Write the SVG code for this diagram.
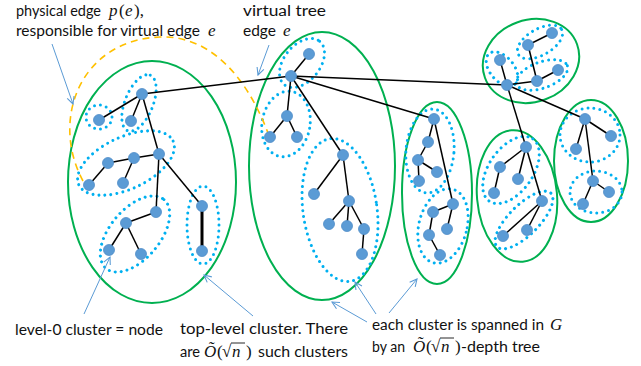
<svg xmlns="http://www.w3.org/2000/svg" width="641" height="366" viewBox="0 0 641 366">
<defs>
<marker id="arr" viewBox="0 0 10 10" refX="9" refY="5" markerWidth="9" markerHeight="9" orient="auto" markerUnits="userSpaceOnUse">
<path d="M1,1 L9,5 L1,9" fill="none" stroke="#5B9BD5" stroke-width="1.2"/>
</marker>
</defs>
<style>
.top{fill:none;stroke:#00B050;stroke-width:2}
.dot{fill:none;stroke:#00B0F0;stroke-width:3;stroke-dasharray:0 6;stroke-linecap:round}
.e{stroke:#000;stroke-width:1.5;fill:none}
.nd{fill:#5B9BD5;stroke:#4F8DC8;stroke-width:0.8}
.ptr{stroke:#5B9BD5;stroke-width:1;fill:none;marker-end:url(#arr)}
.yel{fill:none;stroke:#FFC000;stroke-width:1.6;stroke-dasharray:7 5}
text{font-family:Lato,"Liberation Sans",sans-serif;font-size:15.5px;fill:#111}
.m{font-family:"Liberation Serif","DejaVu Serif",serif;font-style:italic;font-size:17px}
.mr{font-family:"Liberation Serif","DejaVu Serif",serif;font-size:17px}
</style>

<g id="clusters">
<ellipse class="top" cx="152" cy="182" rx="84" ry="121"/>
<ellipse class="top" cx="322" cy="166" rx="73" ry="134"/>
<ellipse class="top" cx="437" cy="193" rx="35" ry="91"/>
<ellipse class="top" cx="531" cy="61" rx="49" ry="41" transform="rotate(-20 531 61)"/>
<ellipse class="top" cx="517" cy="196" rx="40" ry="66" transform="rotate(-5 517 196)"/>
<ellipse class="top" cx="591" cy="161" rx="37" ry="61"/>

<ellipse class="dot" cx="99" cy="117" rx="13" ry="12"/>
<ellipse class="dot" cx="139" cy="103" rx="30" ry="14" transform="rotate(-68 139 103)"/>
<ellipse class="dot" cx="126" cy="163" rx="52" ry="26" transform="rotate(-25 126 163)"/>
<ellipse class="dot" cx="135" cy="234" rx="45" ry="25" transform="rotate(-50 135 234)"/>
<ellipse class="dot" cx="203" cy="225" rx="16" ry="39"/>

<ellipse class="dot" cx="302" cy="63" rx="28" ry="18" transform="rotate(-51 302 63)"/>
<ellipse class="dot" cx="286" cy="124" rx="24" ry="33" transform="rotate(10 286 124)"/>
<ellipse class="dot" cx="340" cy="210" rx="37" ry="72" transform="rotate(-8 340 210)"/>

<ellipse class="dot" cx="430" cy="151" rx="24" ry="42" transform="rotate(5 430 151)"/>
<ellipse class="dot" cx="443" cy="226" rx="24" ry="38" transform="rotate(15 443 226)"/>

<ellipse class="dot" cx="540" cy="42" rx="25" ry="13" transform="rotate(-30 540 42)"/>
<ellipse class="dot" cx="502" cy="69" rx="20" ry="12" transform="rotate(50 502 69)"/>
<ellipse class="dot" cx="542" cy="75" rx="27" ry="13" transform="rotate(-20 542 75)"/>

<ellipse class="dot" cx="511" cy="170" rx="38" ry="22" transform="rotate(-55 511 170)"/>
<ellipse class="dot" cx="524" cy="220" rx="38" ry="15" transform="rotate(-45 524 220)"/>

<ellipse class="dot" cx="590" cy="135" rx="30" ry="27"/>
<ellipse class="dot" cx="596" cy="192" rx="26" ry="21"/>
</g>

<g id="connectors">
<path class="yel" d="M83,181 C50,120 80,40 160,37 C215,35 250,85 268,133"/>
<line class="e" x1="291" y1="76" x2="142" y2="94"/>
<line class="e" x1="291" y1="76" x2="434" y2="119"/>
<line class="e" x1="291" y1="76" x2="507" y2="85"/>
<line class="e" x1="507" y1="85" x2="526" y2="147"/>
<line class="e" x1="507" y1="85" x2="585" y2="119"/>
<line class="e" x1="142" y1="94" x2="99" y2="120"/>
<line class="e" x1="142" y1="94" x2="131" y2="121"/>
<line class="e" x1="142" y1="94" x2="159" y2="154"/>
<line class="e" x1="159" y1="154" x2="134" y2="158"/>
<line class="e" x1="134" y1="158" x2="108" y2="163"/>
<line class="e" x1="108" y1="163" x2="89" y2="185"/>
<line class="e" x1="134" y1="158" x2="123" y2="183"/>
<line class="e" x1="159" y1="154" x2="156" y2="212"/>
<line class="e" x1="156" y1="212" x2="126" y2="223"/>
<line class="e" x1="126" y1="223" x2="109" y2="250"/>
<line class="e" x1="126" y1="223" x2="141" y2="254"/>
<line class="e" x1="159" y1="154" x2="202" y2="206"/>
<line class="e" x1="202" y1="206" x2="202" y2="251" style="stroke-width:3"/>
<line class="e" x1="291" y1="76" x2="309" y2="54"/>
<line class="e" x1="291" y1="76" x2="287" y2="116"/>
<line class="e" x1="287" y1="116" x2="270" y2="137"/>
<line class="e" x1="287" y1="116" x2="297" y2="137"/>
<line class="e" x1="291" y1="76" x2="343" y2="155"/>
<line class="e" x1="343" y1="155" x2="314" y2="194"/>
<line class="e" x1="343" y1="155" x2="349" y2="201"/>
<line class="e" x1="349" y1="201" x2="329" y2="224"/>
<line class="e" x1="349" y1="201" x2="347" y2="226"/>
<line class="e" x1="349" y1="201" x2="364" y2="229"/>
<line class="e" x1="364" y1="229" x2="362" y2="254"/>
<line class="e" x1="434" y1="119" x2="428" y2="142"/>
<line class="e" x1="428" y1="142" x2="418" y2="160"/>
<line class="e" x1="418" y1="160" x2="437" y2="172"/>
<line class="e" x1="418" y1="160" x2="419" y2="181"/>
<line class="e" x1="434" y1="119" x2="453" y2="204"/>
<line class="e" x1="453" y1="204" x2="433" y2="212"/>
<line class="e" x1="453" y1="204" x2="447" y2="229"/>
<line class="e" x1="433" y1="212" x2="429" y2="235"/>
<line class="e" x1="429" y1="235" x2="440" y2="255"/>
<line class="e" x1="528" y1="45" x2="552" y2="33"/>
<line class="e" x1="528" y1="45" x2="537" y2="81"/>
<line class="e" x1="537" y1="81" x2="558" y2="70"/>
<line class="e" x1="507" y1="85" x2="537" y2="81"/>
<line class="e" x1="507" y1="85" x2="500" y2="60"/>
<line class="e" x1="526" y1="147" x2="500" y2="167"/>
<line class="e" x1="500" y1="167" x2="494" y2="193"/>
<line class="e" x1="526" y1="147" x2="518" y2="179"/>
<line class="e" x1="526" y1="147" x2="542" y2="201"/>
<line class="e" x1="542" y1="201" x2="503" y2="236"/>
<line class="e" x1="542" y1="201" x2="527" y2="230"/>
<line class="e" x1="585" y1="119" x2="611" y2="136"/>
<line class="e" x1="585" y1="119" x2="576" y2="149"/>
<line class="e" x1="585" y1="119" x2="593" y2="181"/>
<line class="e" x1="593" y1="181" x2="609" y2="192"/>
<line class="e" x1="593" y1="181" x2="583" y2="204"/>

<line class="ptr" x1="52" y1="44" x2="73" y2="104"/>
<line class="ptr" x1="269" y1="45" x2="258" y2="75"/>
<line class="ptr" x1="84" y1="314" x2="110" y2="257"/>
<line class="ptr" x1="253" y1="316" x2="204" y2="275"/>
<line class="ptr" x1="367" y1="322" x2="332" y2="302"/>
<line class="ptr" x1="376" y1="314" x2="355" y2="282"/>
<line class="ptr" x1="389" y1="313" x2="417" y2="279"/>
</g>

<g id="nodes">
<g id="nA"><circle class="nd" cx="142" cy="94" r="5.5"/></g>
<g id="nB"><circle class="nd" cx="99" cy="120" r="5.5"/></g>
<g id="nC"><circle class="nd" cx="131" cy="121" r="5.5"/></g>
<g id="nD"><circle class="nd" cx="159" cy="154" r="5.5"/></g>
<g id="nE"><circle class="nd" cx="134" cy="158" r="5.5"/></g>
<g id="nF"><circle class="nd" cx="108" cy="163" r="5.5"/></g>
<g id="nG"><circle class="nd" cx="89" cy="185" r="5.5"/></g>
<g id="nH"><circle class="nd" cx="123" cy="183" r="5.5"/></g>
<g id="nI"><circle class="nd" cx="156" cy="212" r="5.5"/></g>
<g id="nJ"><circle class="nd" cx="126" cy="223" r="5.5"/></g>
<g id="nK"><circle class="nd" cx="109" cy="250" r="5.5"/></g>
<g id="nL"><circle class="nd" cx="141" cy="254" r="5.5"/></g>
<g id="nM"><circle class="nd" cx="202" cy="206" r="5.5"/></g>
<g id="nN"><circle class="nd" cx="202" cy="251" r="5.5"/></g>
<g id="nP"><circle class="nd" cx="309" cy="54" r="5.5"/></g>
<g id="nQ"><circle class="nd" cx="291" cy="76" r="5.5"/></g>
<g id="nR"><circle class="nd" cx="287" cy="116" r="5.5"/></g>
<g id="nS"><circle class="nd" cx="270" cy="137" r="5.5"/></g>
<g id="nT"><circle class="nd" cx="297" cy="137" r="5.5"/></g>
<g id="nU"><circle class="nd" cx="343" cy="155" r="5.5"/></g>
<g id="nV"><circle class="nd" cx="314" cy="194" r="5.5"/></g>
<g id="nW"><circle class="nd" cx="349" cy="201" r="5.5"/></g>
<g id="nX"><circle class="nd" cx="329" cy="224" r="5.5"/></g>
<g id="nY"><circle class="nd" cx="347" cy="226" r="5.5"/></g>
<g id="nZ"><circle class="nd" cx="364" cy="229" r="5.5"/></g>
<g id="nAA"><circle class="nd" cx="362" cy="254" r="5.5"/></g>
<g id="nBA"><circle class="nd" cx="434" cy="119" r="5.5"/></g>
<g id="nBB"><circle class="nd" cx="428" cy="142" r="5.5"/></g>
<g id="nBC"><circle class="nd" cx="418" cy="160" r="5.5"/></g>
<g id="nBD"><circle class="nd" cx="437" cy="172" r="5.5"/></g>
<g id="nBE"><circle class="nd" cx="419" cy="181" r="5.5"/></g>
<g id="nBF"><circle class="nd" cx="453" cy="204" r="5.5"/></g>
<g id="nBG"><circle class="nd" cx="433" cy="212" r="5.5"/></g>
<g id="nBH"><circle class="nd" cx="447" cy="229" r="5.5"/></g>
<g id="nBI"><circle class="nd" cx="429" cy="235" r="5.5"/></g>
<g id="nBJ"><circle class="nd" cx="440" cy="255" r="5.5"/></g>
<g id="nCA"><circle class="nd" cx="552" cy="33" r="5.5"/></g>
<g id="nCB"><circle class="nd" cx="528" cy="45" r="5.5"/></g>
<g id="nCC"><circle class="nd" cx="500" cy="60" r="5.5"/></g>
<g id="nCD"><circle class="nd" cx="558" cy="70" r="5.5"/></g>
<g id="nCE"><circle class="nd" cx="537" cy="81" r="5.5"/></g>
<g id="nCF"><circle class="nd" cx="507" cy="85" r="5.5"/></g>
<g id="nDA"><circle class="nd" cx="526" cy="147" r="5.5"/></g>
<g id="nDB"><circle class="nd" cx="500" cy="167" r="5.5"/></g>
<g id="nDC"><circle class="nd" cx="518" cy="179" r="5.5"/></g>
<g id="nDD"><circle class="nd" cx="494" cy="193" r="5.5"/></g>
<g id="nDE"><circle class="nd" cx="542" cy="201" r="5.5"/></g>
<g id="nDF"><circle class="nd" cx="503" cy="236" r="5.5"/></g>
<g id="nDG"><circle class="nd" cx="527" cy="230" r="5.5"/></g>
<g id="nEA"><circle class="nd" cx="585" cy="119" r="5.5"/></g>
<g id="nEB"><circle class="nd" cx="611" cy="136" r="5.5"/></g>
<g id="nEC"><circle class="nd" cx="576" cy="149" r="5.5"/></g>
<g id="nED"><circle class="nd" cx="593" cy="181" r="5.5"/></g>
<g id="nEE"><circle class="nd" cx="609" cy="192" r="5.5"/></g>
<g id="nEF"><circle class="nd" cx="583" cy="204" r="5.5"/></g>
</g>

<g id="labels">
<text x="16" y="16" textLength="85" lengthAdjust="spacingAndGlyphs">physical edge</text>
<text class="m" x="109" y="16">p</text>
<text class="mr" x="119" y="16">(</text>
<text class="m" x="125" y="16">e</text>
<text class="mr" x="134" y="16">),</text>
<text x="16" y="36" textLength="184" lengthAdjust="spacingAndGlyphs">responsible for virtual edge</text>
<text class="m" x="208" y="36">e</text>

<text x="243" y="16" textLength="83" lengthAdjust="spacingAndGlyphs">virtual tree</text>
<text x="243" y="36" textLength="33" lengthAdjust="spacingAndGlyphs">edge</text>
<text class="m" x="283" y="36">e</text>

<text x="15" y="335" textLength="148" lengthAdjust="spacingAndGlyphs">level-0 cluster = node</text>

<text x="180" y="334" textLength="168" lengthAdjust="spacingAndGlyphs">top-level cluster. There</text>
<text x="180" y="357" textLength="20" lengthAdjust="spacingAndGlyphs">are</text>
<text class="m" x="204" y="357">Õ</text>
<text class="mr" x="217" y="357">(</text>
<text class="mr" x="222" y="357">√</text>
<text class="m" x="232" y="357">n</text>
<line x1="231" y1="343" x2="245" y2="343" stroke="#111" stroke-width="0.9"/>
<text class="mr" x="246" y="357">)</text>
<text x="258" y="357" textLength="90" lengthAdjust="spacingAndGlyphs">such clusters</text>

<text x="372" y="330" textLength="172" lengthAdjust="spacingAndGlyphs">each cluster is spanned in</text>
<text class="m" x="550" y="330">G</text>
<text x="372" y="352" textLength="33" lengthAdjust="spacingAndGlyphs">by an</text>
<text class="m" x="413" y="352">Õ</text>
<text class="mr" x="426" y="352">(</text>
<text class="mr" x="431" y="352">√</text>
<text class="m" x="441" y="352">n</text>
<line x1="440" y1="338" x2="454" y2="338" stroke="#111" stroke-width="0.9"/>
<text class="mr" x="455" y="352">)</text>
<text x="461" y="352" textLength="79" lengthAdjust="spacingAndGlyphs">-depth tree</text>
</g>
</svg>
